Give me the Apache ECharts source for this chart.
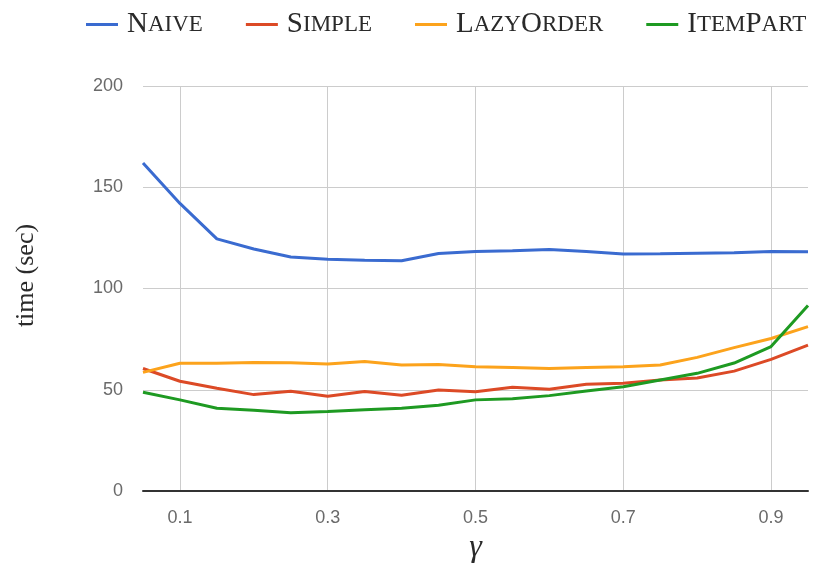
<!DOCTYPE html>
<html>
<head>
<meta charset="utf-8">
<script src="https://cdn.jsdelivr.net/npm/echarts@6/dist/echarts.min.js"></script>
<style>
  html, body { margin: 0; padding: 0; background: #fff; }
  #chart { width: 817px; height: 569px; }
</style>
</head>
<body>
<div id="chart"></div>
<script>
const gamma = ['0.05', '0.1', '0.15', '0.2', '0.25', '0.3', '0.35', '0.4', '0.45', '0.5',
  '0.55', '0.6', '0.65', '0.7', '0.75', '0.8', '0.85', '0.9', '0.95'];
const shownTicks = ['0.1', '0.3', '0.5', '0.7', '0.9'];

const naive = [162, 142, 124.5, 119.5, 115.6, 114.5, 114, 113.7, 117.3, 118.3,
  118.6, 119.2, 118.3, 117, 117.1, 117.4, 117.6, 118.3, 118.1];
const simple = [60.5, 54.2, 50.7, 47.6, 49.3, 46.8, 49.1, 47.3, 49.9, 49,
  51.2, 50.2, 52.7, 53.2, 54.8, 55.8, 59.2, 65, 72];
const lazyOrder = [58.6, 63.1, 63.1, 63.5, 63.3, 62.7, 64, 62.2, 62.5, 61.3,
  61, 60.5, 61, 61.3, 62.2, 66, 70.8, 75.3, 81.2];
const itemPart = [48.8, 45, 40.9, 39.9, 38.6, 39.3, 40.1, 40.9, 42.4, 45,
  45.6, 47.1, 49.4, 51.5, 54.8, 58.1, 63.2, 71.3, 91.6];

// small caps legend labels: big, small, big, small
const legendCaps = {
  'Naive': ['N', 'AIVE'],
  'Simple': ['S', 'IMPLE'],
  'LazyOrder': ['L', 'AZY', 'O', 'RDER'],
  'ItemPart': ['I', 'TEM', 'P', 'ART']
};

const colors = ['#3a6bd0', '#dc4a26', '#fca31c', '#1e9a22'];

const chart = echarts.init(document.getElementById('chart'));

const isShown = (idx, val) => shownTicks.indexOf(val) !== -1;

const option = {
  animation: false,
  color: colors,
  legend: {
    top: 5,
    left: 81,
    itemWidth: 32,
    itemHeight: 3,
    itemGap: 43,
    icon: 'rect',
    formatter: name => legendCaps[name].map((s, i) => (i % 2 === 0 ? '{b|' : '{s|') + s + '}').join(''),
    textStyle: {
      rich: {
        b: { fontFamily: 'Liberation Serif', fontSize: 29, color: '#2a2a2a' },
        s: { fontFamily: 'Liberation Serif', fontSize: 23, color: '#2a2a2a' }
      },
      padding: [0, 0, 0, 4]
    },
    data: ['Naive', 'Simple', 'LazyOrder', 'ItemPart']
  },
  grid: {
    left: 143,
    right: 9,
    top: 86,
    bottom: 76
  },
  xAxis: {
    type: 'category',
    data: gamma,
    boundaryGap: false,
    name: 'γ',
    nameLocation: 'middle',
    nameGap: 41,
    nameTextStyle: {
      fontFamily: 'Liberation Serif',
      fontStyle: 'italic',
      fontSize: 32,
      color: '#2a2a2a'
    },
    axisLine: { lineStyle: { color: '#333', width: 2 } },
    axisTick: { show: false },
    axisLabel: {
      interval: isShown,
      margin: 18,
      fontFamily: 'Liberation Sans',
      fontSize: 18,
      color: '#6a6a6a'
    },
    splitLine: {
      show: true,
      interval: isShown,
      lineStyle: { color: '#cccccc', width: 1 }
    }
  },
  yAxis: {
    type: 'value',
    min: 0,
    max: 200,
    interval: 50,
    name: 'time (sec)',
    nameLocation: 'middle',
    nameGap: 104,
    nameTextStyle: {
      fontFamily: 'Liberation Serif',
      fontSize: 26,
      color: '#2a2a2a',
      padding: [0, 0, 0, 26]
    },
    axisLine: { show: false },
    axisTick: { show: false },
    axisLabel: {
      margin: 20,
      fontFamily: 'Liberation Sans',
      fontSize: 18,
      color: '#6a6a6a'
    },
    splitLine: { lineStyle: { color: '#cccccc', width: 1 } }
  },
  series: [
    { name: 'Naive', type: 'line', data: naive },
    { name: 'Simple', type: 'line', data: simple },
    { name: 'LazyOrder', type: 'line', data: lazyOrder },
    { name: 'ItemPart', type: 'line', data: itemPart }
  ].map(s => Object.assign(s, {
    showSymbol: false,
    symbol: 'none',
    lineStyle: { width: 3 }
  }))
};

chart.setOption(option);
</script>
</body>
</html>
